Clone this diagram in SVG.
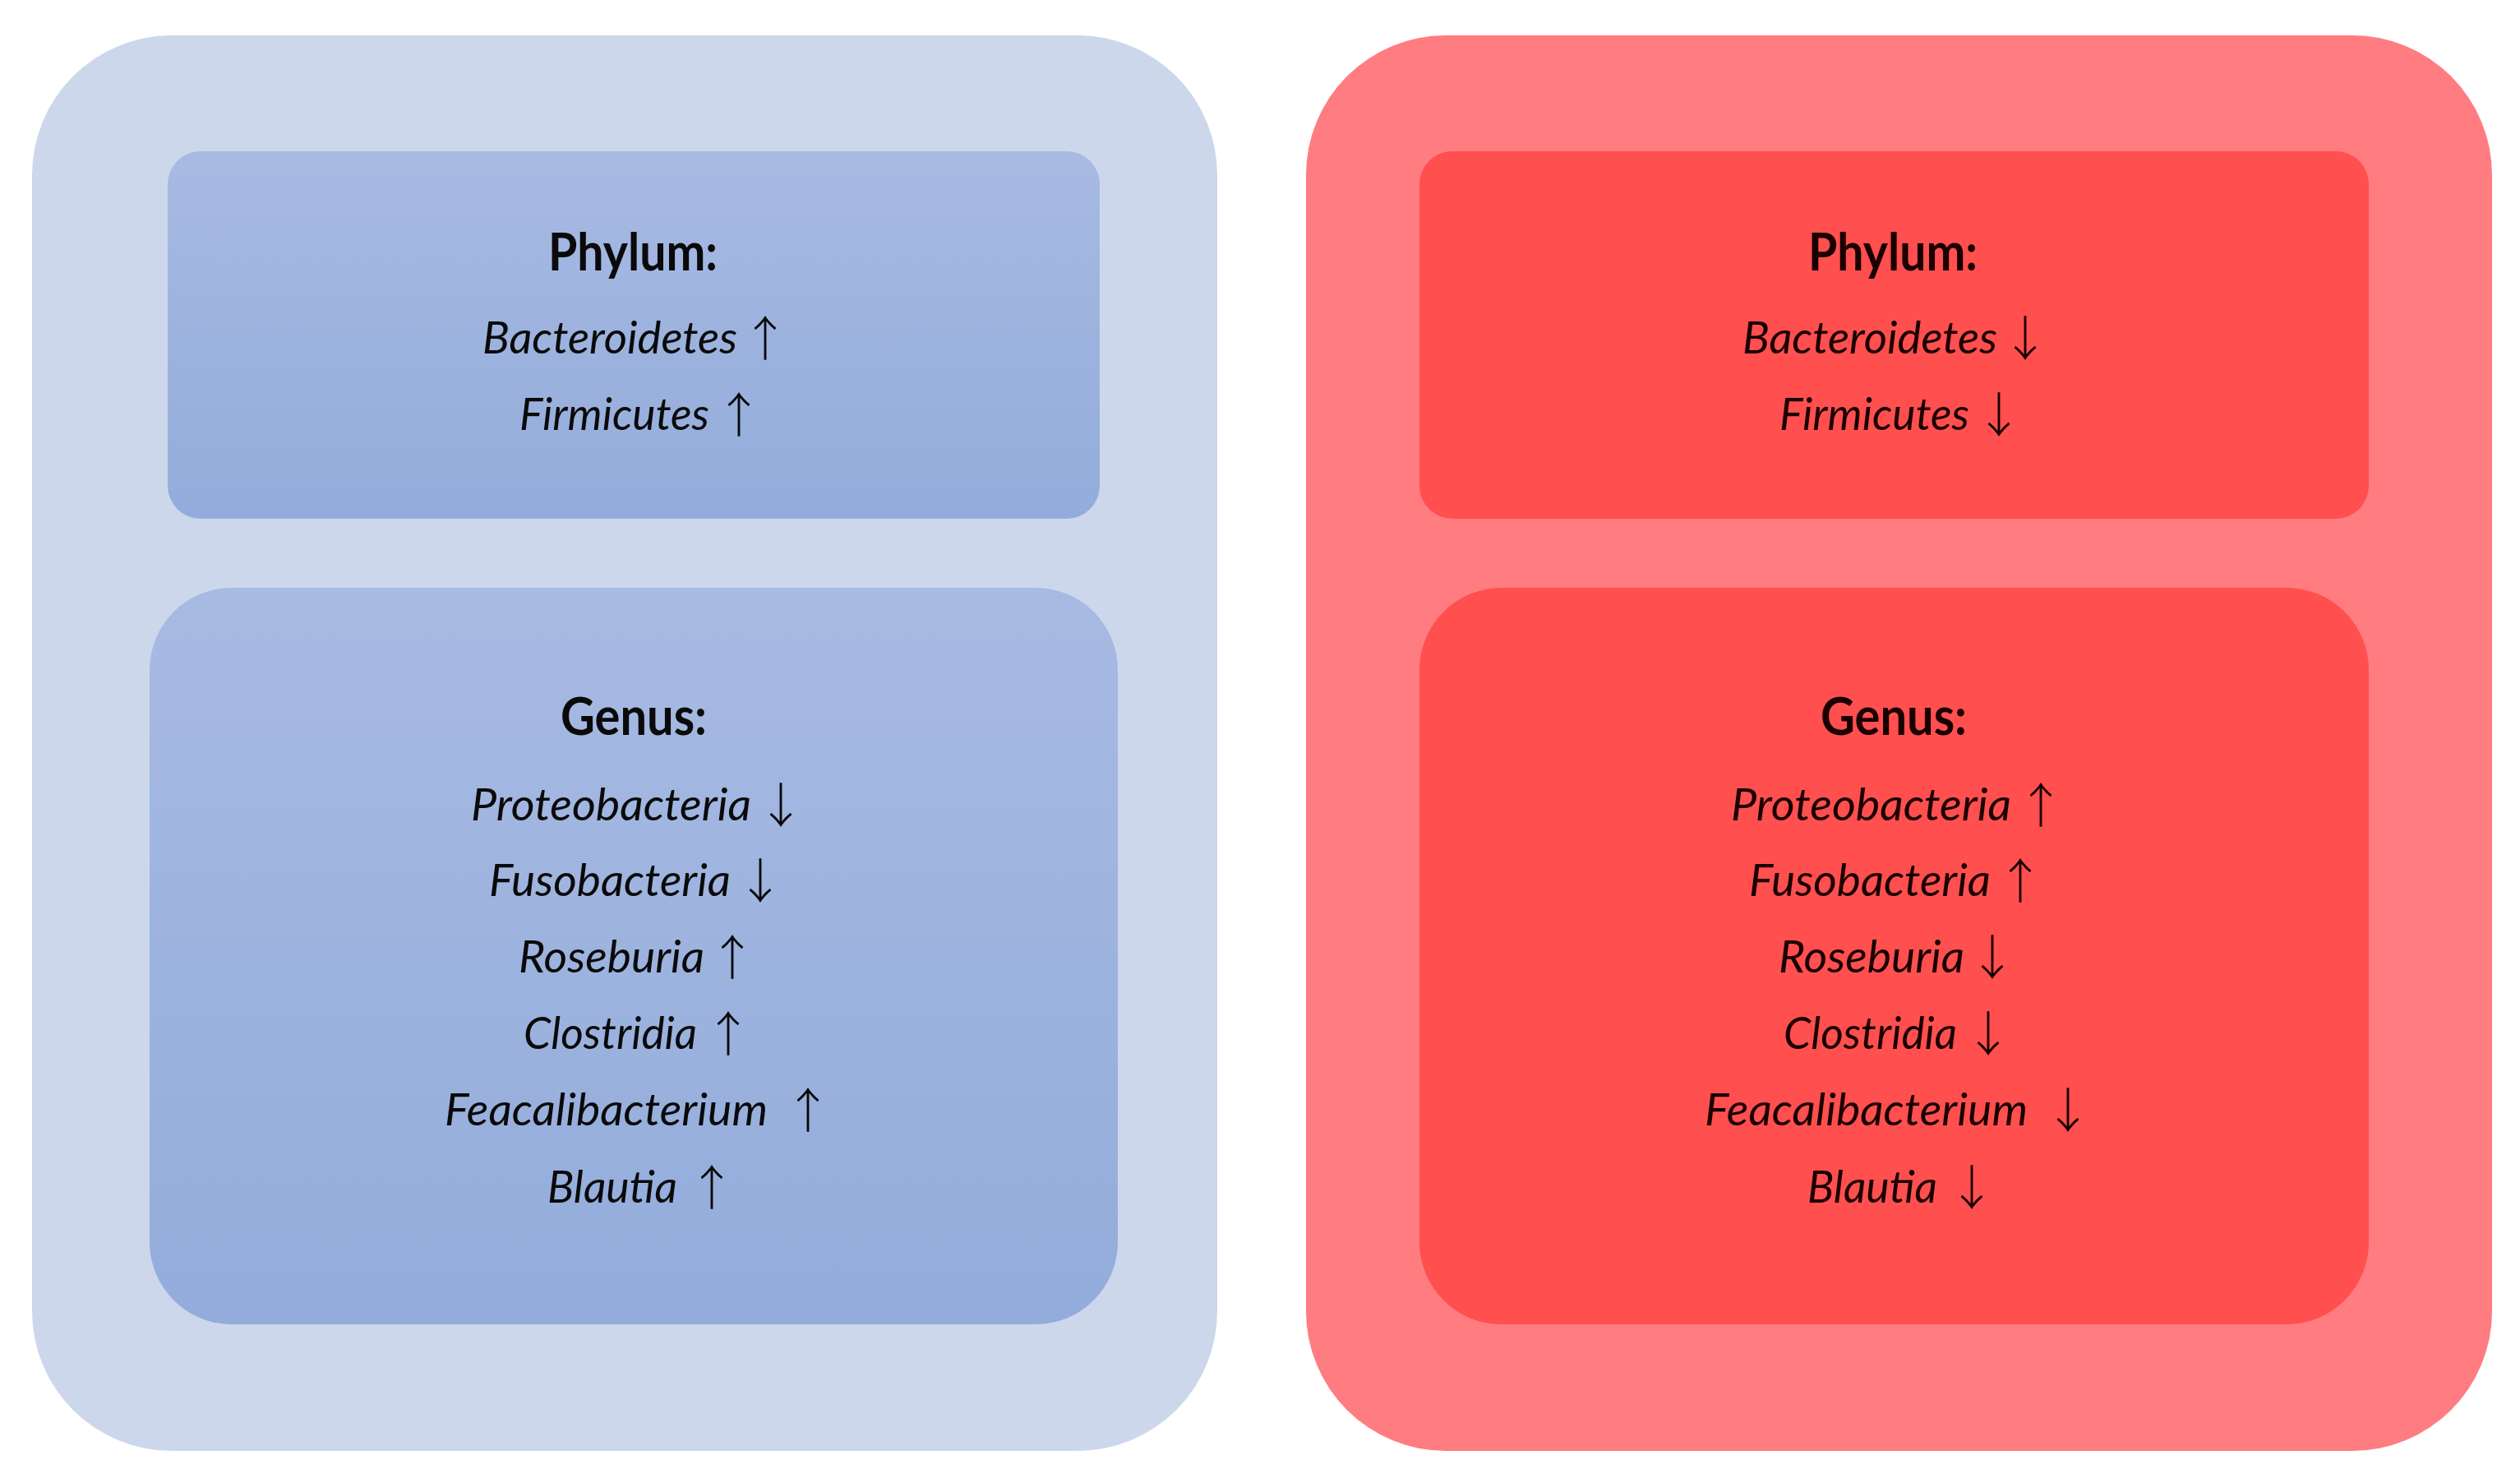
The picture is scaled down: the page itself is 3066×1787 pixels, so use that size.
<svg xmlns="http://www.w3.org/2000/svg" width="3066" height="1787" viewBox="0 0 3066 1787">
<defs>
<linearGradient id="blueInner" x1="0" y1="0" x2="0" y2="1">
<stop offset="0" stop-color="#A7BAE2"/>
<stop offset="1" stop-color="#93ACDB"/>
</linearGradient>
<style>
.head{font-family:Lato,"Open Sans",sans-serif;font-weight:bold;font-size:64px;fill:#0a0a0a}
.item{font-family:Lato,"Open Sans",sans-serif;font-style:italic;font-size:54px;fill:#0a0a0a}
.arr{font-family:"Noto Sans CJK SC","Noto Sans CJK JP",sans-serif;font-weight:300;font-size:58px;fill:#0a0a0a}
.red .head,.red .item,.red .arr{fill:#1a0000}
</style>
</defs>
<rect width="3066" height="1787" fill="#ffffff"/>
<g id="left-panel">
<rect x="39" y="43" width="1442" height="1722" rx="170" ry="170" fill="#CDD7EB"/>
<g id="left-phylum">
<rect x="204" y="184" width="1134" height="447" rx="40" ry="40" fill="url(#blueInner)"/>
<text class="head" x="667" y="329" textLength="206" lengthAdjust="spacingAndGlyphs">Phylum:</text>
<text class="item" x="587" y="430" textLength="310" lengthAdjust="spacingAndGlyphs">Bacteroidetes</text><text class="arr" x="902" y="433">↑</text>
<text class="item" x="632" y="523" textLength="231" lengthAdjust="spacingAndGlyphs">Firmicutes</text><text class="arr" x="870" y="526">↑</text>
</g>
<g id="left-genus">
<rect x="182" y="715" width="1178" height="896" rx="100" ry="100" fill="url(#blueInner)"/>
<text class="head" x="682" y="894" textLength="178" lengthAdjust="spacingAndGlyphs">Genus:</text>
<text class="item" x="573" y="998" textLength="341" lengthAdjust="spacingAndGlyphs">Proteobacteria</text><text class="arr" x="921" y="1001">↓</text>
<text class="item" x="595" y="1090" textLength="294" lengthAdjust="spacingAndGlyphs">Fusobacteria</text><text class="arr" x="896" y="1093">↓</text>
<text class="item" x="631" y="1183" textLength="226" lengthAdjust="spacingAndGlyphs">Roseburia</text><text class="arr" x="862" y="1186">↑</text>
<text class="item" x="637" y="1276" textLength="211" lengthAdjust="spacingAndGlyphs">Clostridia</text><text class="arr" x="857" y="1279">↑</text>
<text class="item" x="541" y="1369" textLength="393" lengthAdjust="spacingAndGlyphs">Feacalibacterium</text><text class="arr" x="954" y="1372">↑</text>
<text class="item" x="666" y="1463" textLength="158" lengthAdjust="spacingAndGlyphs">Blautia</text><text class="arr" x="837" y="1466">↑</text>
</g>
</g>
<g id="right-panel" class="red">
<rect x="1589" y="43" width="1443" height="1722" rx="170" ry="170" fill="#FF7C80"/>
<g id="right-phylum">
<rect x="1727" y="184" width="1155" height="447" rx="40" ry="40" fill="#FF4F4F"/>
<text class="head" x="2200" y="329" textLength="206" lengthAdjust="spacingAndGlyphs">Phylum:</text>
<text class="item" x="2120" y="430" textLength="310" lengthAdjust="spacingAndGlyphs">Bacteroidetes</text><text class="arr" x="2435" y="433">↓</text>
<text class="item" x="2165" y="523" textLength="231" lengthAdjust="spacingAndGlyphs">Firmicutes</text><text class="arr" x="2403" y="526">↓</text>
</g>
<g id="right-genus">
<rect x="1727" y="715" width="1155" height="896" rx="100" ry="100" fill="#FF4F4F"/>
<text class="head" x="2215" y="894" textLength="178" lengthAdjust="spacingAndGlyphs">Genus:</text>
<text class="item" x="2106" y="998" textLength="341" lengthAdjust="spacingAndGlyphs">Proteobacteria</text><text class="arr" x="2454" y="1001">↑</text>
<text class="item" x="2128" y="1090" textLength="294" lengthAdjust="spacingAndGlyphs">Fusobacteria</text><text class="arr" x="2429" y="1093">↑</text>
<text class="item" x="2164" y="1183" textLength="226" lengthAdjust="spacingAndGlyphs">Roseburia</text><text class="arr" x="2395" y="1186">↓</text>
<text class="item" x="2170" y="1276" textLength="211" lengthAdjust="spacingAndGlyphs">Clostridia</text><text class="arr" x="2390" y="1279">↓</text>
<text class="item" x="2074" y="1369" textLength="393" lengthAdjust="spacingAndGlyphs">Feacalibacterium</text><text class="arr" x="2487" y="1372">↓</text>
<text class="item" x="2199" y="1463" textLength="158" lengthAdjust="spacingAndGlyphs">Blautia</text><text class="arr" x="2370" y="1466">↓</text>
</g>
</g>
</svg>
